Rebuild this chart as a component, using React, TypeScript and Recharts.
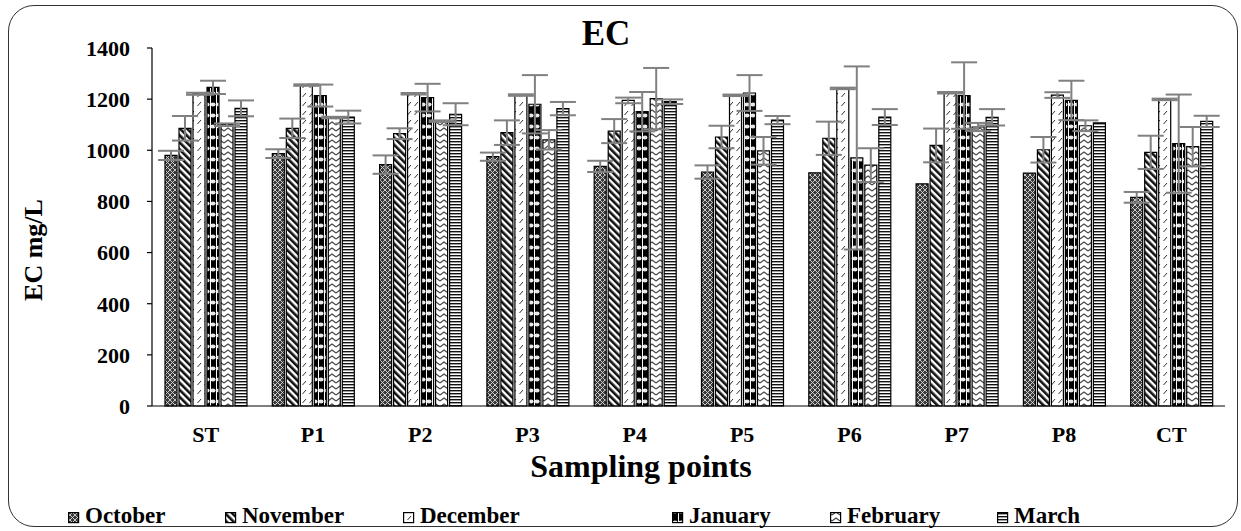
import React from 'react';
import { BarChart, Bar, XAxis, YAxis, ErrorBar } from 'recharts';

const categories = ['ST', 'P1', 'P2', 'P3', 'P4', 'P5', 'P6', 'P7', 'P8', 'CT'];

const october = [980, 987, 944, 975, 937, 915, 912, 869, 911, 816];
const november = [1086, 1086, 1065, 1069, 1075, 1052, 1047, 1019, 1002, 992];
const december = [1221, 1255, 1221, 1216, 1195, 1215, 1242, 1225, 1216, 1199];
const january = [1246, 1214, 1206, 1180, 1151, 1224, 970, 1214, 1195, 1026];
const february = [1100, 1128, 1114, 1041, 1202, 998, 942, 1091, 1096, 1014];
const march = [1164, 1130, 1141, 1163, 1190, 1118, 1130, 1129, 1107, 1113];

const octoberErr = [18, 17, 36, 16, 22, 26, 0, 0, 0, 21];
const novemberErr = [48, 38, 21, 48, 47, 44, 65, 66, 50, 65];
const decemberErr = [4, 3, 3, 3, 11, 3, 3, 3, 11, 3];
const januaryErr = [26, 43, 54, 114, 77, 70, 358, 130, 77, 192];
const februaryErr = [5, 3, 3, 38, 120, 54, 66, 16, 21, 77];
const marchErr = [31, 25, 43, 26, 9, 16, 31, 32, 0, 22];

const yTicks = [0, 200, 400, 600, 800, 1000, 1200, 1400];

const series = [
  { key: 'october', name: 'October', values: october, err: octoberErr, pat: 'pOct' },
  { key: 'november', name: 'November', values: november, err: novemberErr, pat: 'pNov' },
  { key: 'december', name: 'December', values: december, err: decemberErr, pat: 'pDec' },
  { key: 'january', name: 'January', values: january, err: januaryErr, pat: 'pJan' },
  { key: 'february', name: 'February', values: february, err: februaryErr, pat: 'pFeb' },
  { key: 'march', name: 'March', values: march, err: marchErr, pat: 'pMar' },
];

const data = categories.map((c, i) => {
  const row: any = { name: c };
  series.forEach((s) => {
    row[s.key] = s.values[i];
    row[s.key + 'Err'] = s.err[i];
  });
  return row;
});

const legendX = [68, 225, 403, 672, 830, 997];

const FONT = "'Liberation Serif', 'Times New Roman', Times, serif";

function Patterns() {
  return (
    <svg width={0} height={0} style={{ position: 'absolute' }}>
      <defs>
        <pattern id="pOct" width={5} height={5} patternUnits="userSpaceOnUse">
          <rect width={5} height={5} fill="#3a3a3a" />
          <path d="M0,0 L5,5 M5,0 L0,5" stroke="#d8d8d8" strokeWidth={0.9} />
        </pattern>
        <pattern id="pNov" width={5} height={5} patternUnits="userSpaceOnUse" patternTransform="rotate(-45)">
          <rect width={5} height={5} fill="#fff" />
          <rect width={2.6} height={5} fill="#111" />
        </pattern>
        <pattern id="pDec" width={7} height={9} patternUnits="userSpaceOnUse">
          <rect width={7} height={9} fill="#fff" />
          <path d="M1.5,7 L5,3" stroke="#333" strokeWidth={1} />
        </pattern>
        <pattern id="pJan" width={6} height={11} patternUnits="userSpaceOnUse">
          <rect width={6} height={11} fill="#000" />
          <ellipse cx={3} cy={5.5} rx={2.6} ry={2} fill="#e8e8e8" />
          <rect x={0} y={0} width={1} height={11} fill="#fff" />
        </pattern>
        <pattern id="pFeb" width={8} height={6} patternUnits="userSpaceOnUse">
          <rect width={8} height={6} fill="#fff" />
          <path d="M0,5 L4,2 L8,5" stroke="#444" strokeWidth={1.1} fill="none" />
        </pattern>
        <pattern id="pMar" width={4} height={3} patternUnits="userSpaceOnUse">
          <rect width={4} height={3} fill="#fff" />
          <rect width={4} height={1.4} fill="#111" />
        </pattern>
      </defs>
    </svg>
  );
}

export default function App() {
  return (
    <div style={{ position: 'absolute', left: 0, top: 0, width: 1241, height: 531, background: '#fff', fontFamily: FONT }}>
      <Patterns />
      <div
        style={{
          position: 'absolute',
          left: 8,
          top: 5,
          width: 1230,
          height: 522,
          boxSizing: 'border-box',
          border: '1.5px solid #333',
          borderRadius: 26,
        }}
      />
      <div style={{ position: 'absolute', left: 0, top: 0 }}>
        <BarChart
          width={1241}
          height={531}
          data={data}
          margin={{ top: 48, right: 16, bottom: 85, left: 0 }}
          barSize={12}
          barGap={2}
        >
          <XAxis
            dataKey="name"
            height={40}
            axisLine={{ stroke: '#000', strokeWidth: 1.2 }}
            tickLine={false}
            tickMargin={14}
            tick={{ fill: '#000', fontSize: 22, fontWeight: 'bold', fontFamily: FONT }}
          />
          <YAxis
            width={152}
            domain={[0, 1400]}
            ticks={yTicks}
            interval={0}
            axisLine={{ stroke: '#000', strokeWidth: 1.2 }}
            tickLine={{ stroke: '#000', strokeWidth: 1.2 }}
            tickSize={5}
            tickMargin={17}
            tick={{ fill: '#000', fontSize: 22, fontWeight: 'bold', fontFamily: FONT }}
          />
          {series.map((s) => (
            <Bar
              key={s.key}
              dataKey={s.key}
              name={s.name}
              fill={`url(#${s.pat})`}
              stroke="#000"
              strokeWidth={1.2}
              isAnimationActive={false}
            >
              <ErrorBar dataKey={s.key + 'Err'} width={13} strokeWidth={2} stroke="#808080" direction="y" />
            </Bar>
          ))}
        </BarChart>
      </div>
      <svg
        width={1241}
        height={531}
        style={{ position: 'absolute', left: 0, top: 0, pointerEvents: 'none' }}
        fontFamily={FONT}
        fontWeight="bold"
      >
        <text x={606} y={45} textAnchor="middle" fontSize={35} fill="#000">EC</text>
        <text x={641} y={477} textAnchor="middle" fontSize={32} fill="#000">Sampling points</text>
        <text x={42} y={250} textAnchor="middle" fontSize={26} fill="#000" transform="rotate(-90 42 250)">EC mg/L</text>
        {series.map((s, i) => (
          <g key={s.key}>
            <rect x={legendX[i] + 0.6} y={512.6} width={10} height={10} fill={`url(#${s.pat})`} stroke="#000" strokeWidth={1.2} />
            <text x={legendX[i] + 17} y={523} fontSize={23} fill="#000">{s.name}</text>
          </g>
        ))}
      </svg>
    </div>
  );
}
